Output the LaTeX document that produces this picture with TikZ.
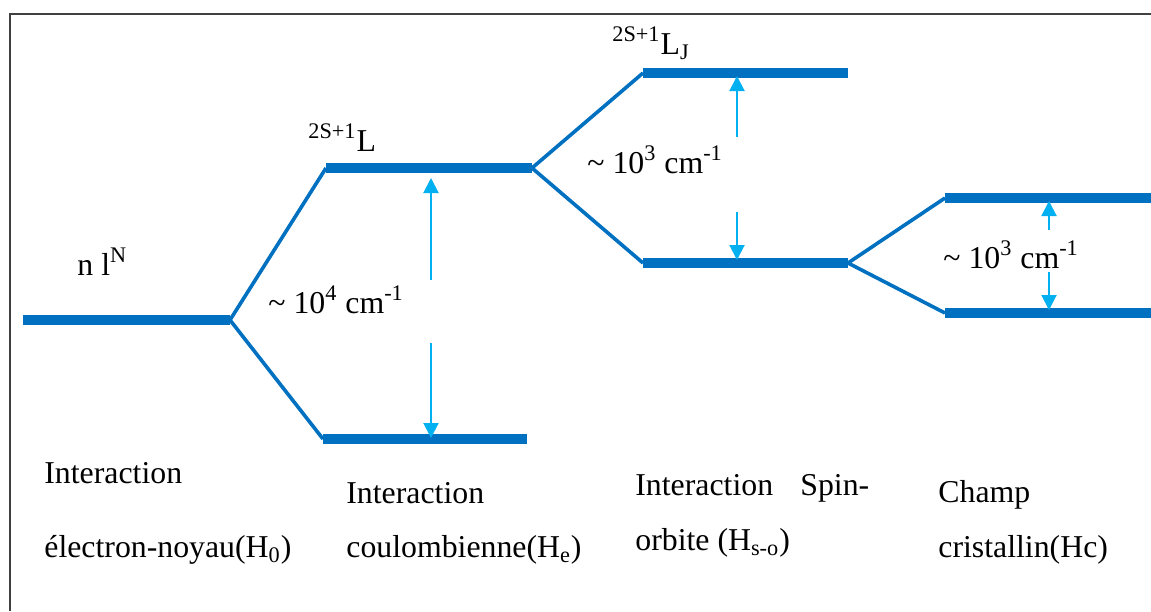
\documentclass[tikz,border=0pt]{standalone}
\usepackage{fontspec}
\setmainfont{Liberation Serif}
\usetikzlibrary{arrows.meta}
\definecolor{levelblue}{HTML}{0070C0}
\definecolor{arrowblue}{HTML}{00B0F0}
\definecolor{framegray}{HTML}{404040}
\begin{document}
\begin{tikzpicture}[x=0.5pt,y=-0.5pt,
  level/.style={levelblue,line width=4.8pt},
  branch/.style={levelblue,line width=1.8pt,line join=miter},
  gaparrow/.style={arrowblue,line width=1pt,-{Triangle[width=7.5pt,length=7.5pt]}},
  lbl/.style={inner sep=0pt,anchor=base west,font=\fontsize{15.9}{19}\selectfont},
]
\useasboundingbox (0,0) rectangle (1151,611);
% open frame (left and top edges)
\draw[framegray,line width=1pt] (9.5,611) -- (9.5,13.5) -- (1151,13.5);

% level end points
\coordinate (n0w) at (23,320);   \coordinate (n0e) at (230,320);
\coordinate (Ltw) at (326,168);  \coordinate (Lte) at (532,168);
\coordinate (Lbw) at (323,439);  \coordinate (Lbe) at (527,439);
\coordinate (Jtw) at (643,73);   \coordinate (Jte) at (848,73);
\coordinate (Jbw) at (643,263);  \coordinate (Jbe) at (848,263);
\coordinate (Ctw) at (945,198);  \coordinate (Cte) at (1151,198);
\coordinate (Cbw) at (945,313);  \coordinate (Cbe) at (1151,313);

% levels
\draw[level] (n0w) -- (n0e);
\draw[level] (Ltw) -- (Lte);
\draw[level] (Lbw) -- (Lbe);
\draw[level] (Jtw) -- (Jte);
\draw[level] (Jbw) -- (Jbe);
\draw[level] (Ctw) -- (Cte);
\draw[level] (Cbw) -- (Cbe);

% splittings
\draw[branch] (Ltw) -- (n0e) -- (Lbw);
\draw[branch] (Jtw) -- (Lte) -- (Jbw);
\draw[branch] (Ctw) -- (Jbe) -- (Cbw);

% level labels
\node[lbl] (nl) at (77,275) {n l\textsuperscript{N}};
\node[lbl] (term) at (308,151) {\textsuperscript{2S+1}L};
\node[lbl] (termJ) at (612,54) {\textsuperscript{2S+1}L\textsubscript{J}};

% gap labels
\node[lbl] (g1) at (268,313) {\textasciitilde{} 10\textsuperscript{4} cm\textsuperscript{-1}};
\node[lbl] (g2) at (587,173) {\textasciitilde{} 10\textsuperscript{3} cm\textsuperscript{-1}};
\node[lbl] (g3) at (943,268) {\textasciitilde{} 10\textsuperscript{3} cm\textsuperscript{-1}};

% gap arrows
\coordinate (a1u) at (431,280); \coordinate (a1t) at (431,178);
\coordinate (a1l) at (431,343); \coordinate (a1b) at (431,438);
\coordinate (a2u) at (737,137); \coordinate (a2t) at (737,76);
\coordinate (a2l) at (737,212); \coordinate (a2b) at (737,260);
\coordinate (a3u) at (1049,230); \coordinate (a3t) at (1049,201);
\coordinate (a3l) at (1049,272); \coordinate (a3b) at (1049,310);
\draw[gaparrow] (a1u) -- (a1t);
\draw[gaparrow] (a1l) -- (a1b);
\draw[gaparrow] (a2u) -- (a2t);
\draw[gaparrow] (a2l) -- (a2b);
\draw[gaparrow] (a3u) -- (a3t);
\draw[gaparrow] (a3l) -- (a3b);

% interaction captions
\node[lbl] (c1a) at (44,483) {Interaction};
\node[lbl] (c1b) at (44,557) {électron-noyau(H\textsubscript{0})};
\node[lbl] (c2a) at (346,503) {Interaction};
\node[lbl] (c2b) at (346,557) {coulombienne(H\textsubscript{e})};
\node[lbl] (c3a) at (635,495) {Interaction};
\node[lbl] (c3s) at (800,495) {Spin-};
\node[lbl] (c3b) at (635,550) {orbite (H\textsubscript{s-o})};
\node[lbl] (c4a) at (938,502) {Champ};
\node[lbl] (c4b) at (938,557) {cristallin(Hc)};
\end{tikzpicture}
\end{document}
